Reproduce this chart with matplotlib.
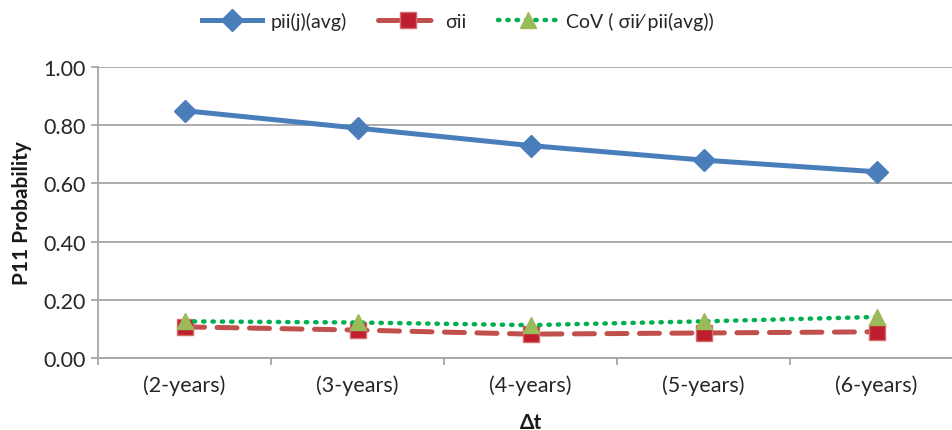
import matplotlib.pyplot as plt
import numpy as np

# periods and the three series
periodos = ['(2-years)', '(3-years)', '(4-years)', '(5-years)', '(6-years)']
pii_avg = [0.85, 0.79, 0.73, 0.68, 0.64]
sigma_ii = [0.107, 0.096, 0.082, 0.086, 0.090]
cov = [0.126, 0.122, 0.113, 0.126, 0.141]

plt.rcParams['font.family'] = ['Lato', 'DejaVu Sans']

fig = plt.figure(figsize=(9.52, 4.31), dpi=100)
ax = fig.add_axes([98 / 952, 1 - 359 / 431, 865 / 952, 291 / 431])

x = np.arange(len(periodos))

ax.plot(x, pii_avg, color='#4a7ebb', lw=3.6, marker='D', ms=11,
        mfc='#4a7ebb', mec='#4a7ebb', label='pii(j)(avg)', zorder=3)
ax.plot(x, sigma_ii, color='#c0504d', lw=3.6, ls=(0, (4, 2.5)), dash_capstyle='round',
        marker='s', ms=11, mfc='#be1e2d', mec='#d46a6a', mew=1,
        label='σii', zorder=3)
ax.plot(x, cov, color='#00b050', lw=3.2, ls=(0, (0.3, 1.8)), dash_capstyle='round',
        marker='^', ms=12, mfc='#9bbb59', mec='#9bbb59',
        label='CoV ( σii⁄ pii(avg))', zorder=4)

ax.set_xlim(-0.5, len(periodos) - 0.5)
ax.set_ylim(0, 1.0)
ax.set_yticks(np.arange(0, 1.01, 0.2))
ax.set_yticklabels([f'{v:.2f}' for v in np.arange(0, 1.01, 0.2)])
ax.set_xticks(x)
ax.set_xticklabels(periodos)
ax.set_xticks(np.arange(-0.5, len(periodos), 1), minor=True)

ax.grid(axis='y', color='#a6a6a6', lw=1.3)
ax.set_axisbelow(True)
for s in ['top', 'right']:
    ax.spines[s].set_visible(False)
for s in ['left', 'bottom']:
    ax.spines[s].set_color('#a6a6a6')
    ax.spines[s].set_linewidth(1.3)

ax.tick_params(axis='y', length=5, color='#a6a6a6', width=1.3, labelsize=15.5, pad=4,
               labelcolor='#262626')
ax.tick_params(axis='x', which='major', length=0, labelsize=15.5, pad=12,
               labelcolor='#262626')
ax.tick_params(axis='x', which='minor', length=5, color='#a6a6a6', width=1.3)

ax.set_ylabel('P11 Probability', fontsize=15, fontweight='bold', labelpad=8,
              color='#1a1a1a')
ax.set_xlabel('Δt', fontsize=15, fontweight='bold', labelpad=12, color='#1a1a1a')

fig.legend(loc='upper center', bbox_to_anchor=(0.481, 1.01), ncol=3, frameon=False,
           fontsize=14, handlelength=3.1, columnspacing=1.6, handletextpad=0.4,
           labelcolor='#262626')

fig.savefig('out.png', dpi=100)
